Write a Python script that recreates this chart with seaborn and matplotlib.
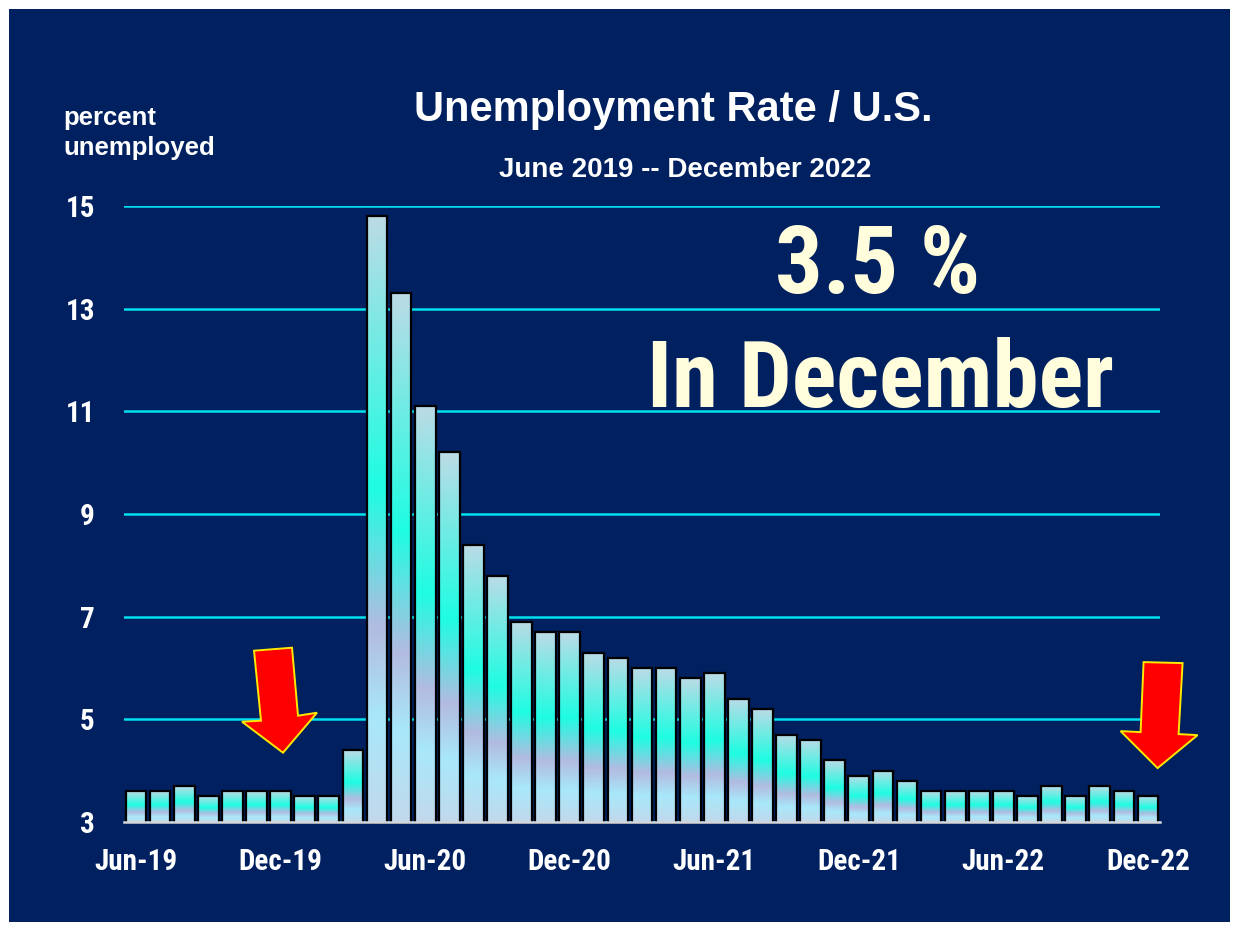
import numpy as np
import pandas as pd
import matplotlib
matplotlib.use("Agg")
import matplotlib.pyplot as plt
import seaborn as sns
from matplotlib.colors import LinearSegmentedColormap
from matplotlib.patches import Polygon, Rectangle
from matplotlib.transforms import Affine2D

# -----------------------------
# Data
# -----------------------------
months = pd.date_range("2019-06-01", periods=43, freq="MS").strftime("%b-%y").tolist()
rates = [3.6, 3.6, 3.7, 3.5, 3.6, 3.6, 3.6,                      # Jun-19 .. Dec-19
         3.5, 3.5, 4.4, 14.8, 13.3, 11.1, 10.2, 8.4, 7.8, 6.9, 6.7, 6.7,  # 2020
         6.3, 6.2, 6.0, 6.0, 5.8, 5.9, 5.4, 5.2, 4.7, 4.6, 4.2, 3.9,      # 2021
         4.0, 3.8, 3.6, 3.6, 3.6, 3.6, 3.5, 3.7, 3.5, 3.7, 3.6, 3.5]      # 2022
tick_labels = ["Jun-19", "Dec-19", "Jun-20", "Dec-20", "Jun-21", "Dec-21", "Jun-22", "Dec-22"]
y_ticks = [3, 5, 7, 9, 11, 13, 15]
arrow_tips = [(6.1, 4.35), (42.4, 4.05)]   # (month index, percent) where the red arrows point

# -----------------------------
# Style
# -----------------------------
NAVY = "#002060"
GRID = "#00E1EE"
AXIS = "#D6D6D6"
CREAM = "#FFFDDC"
W, H = 1239, 930
NARROW = ["Roboto Condensed", "PT Sans Narrow", "Liberation Sans", "DejaVu Sans"]

sns.set_style("white")
plt.rcParams["font.family"] = ["Liberation Sans", "DejaVu Sans"]
plt.rcParams["font.weight"] = "bold"

bar_cmap = LinearSegmentedColormap.from_list(
    "bars",
    [(0.0, "#BCDBE6"), (0.45, "#1EFDE2"), (0.68, "#B3BBE1"), (0.83, "#A8E8FA"), (1.0, "#C2D8EC")],
)

# arrow outline in pixels, relative to the tip (y up)
arrow_shapes = [
    [(0, 0), (-41, 31), (-22, 32), (-29, 102), (9, 105), (15, 37), (34, 40)],
    [(0, 0), (-37, 37), (-17, 36), (-14, 106), (25, 105), (21, 34), (40, 33)],
]

# -----------------------------
# Figure
# -----------------------------
fig = plt.figure(figsize=(W / 100, H / 100), dpi=100, facecolor="white")
fig.patches.append(Rectangle((9 / W, 8 / H), (1230 - 9) / W, (921 - 8) / H,
                             transform=fig.transFigure, facecolor=NAVY,
                             edgecolor="none", zorder=-10))

ax = fig.add_axes([124 / W, (H - 822) / H, (1160 - 124) / W, (822 - 206) / H])
ax.set_facecolor("none")

sns.barplot(x=months, y=rates, ax=ax, width=0.86, color="#1EFDE2",
            edgecolor="black", linewidth=1.6, zorder=3)

# gradient fill inside every bar
grad = np.linspace(0, 1, 256).reshape(-1, 1)
for bar in ax.patches:
    x0, w, top = bar.get_x(), bar.get_width(), bar.get_height()
    bar.set_facecolor("none")
    ax.imshow(grad, cmap=bar_cmap, extent=[x0, x0 + w, 3, top], aspect="auto",
              interpolation="bicubic", zorder=2.5)

ax.set_xlim(-0.5, len(months) - 0.5)
ax.set_ylim(3, 15)

# grid + axes
ax.set_yticks(y_ticks)
ax.yaxis.grid(True, color=GRID, linewidth=1.8)
ax.xaxis.grid(False)
ax.set_axisbelow(True)
for side in ["left", "right", "top"]:
    ax.spines[side].set_visible(False)
ax.spines["bottom"].set_color(AXIS)
ax.spines["bottom"].set_linewidth(1.8)
ax.spines["bottom"].set_zorder(4)

tick_pos = [months.index(t) for t in tick_labels]
ax.set_xticks(tick_pos, tick_labels)
ax.set_xticks(np.arange(-0.5, len(months), 1), minor=True)
ax.tick_params(axis="x", which="major", length=0, pad=19, labelsize=21, labelcolor="white")
ax.tick_params(axis="x", which="minor", length=6, width=1.5, color=AXIS, direction="out")
ax.tick_params(axis="y", length=0, pad=21, labelsize=21, labelcolor="white")
for lab in ax.get_xticklabels() + ax.get_yticklabels():
    lab.set_fontweight("bold")
    lab.set_family(NARROW)
ax.set_xlabel("")
ax.set_ylabel("")

# -----------------------------
# Text
# -----------------------------
fig.text(673 / W, 1 - 121 / H, "Unemployment Rate / U.S.", ha="center", va="baseline",
         color="white", fontsize=30, fontweight="bold")
fig.text(685 / W, 1 - 177 / H, "June 2019 -- December 2022", ha="center", va="baseline",
         color="white", fontsize=20, fontweight="bold")
fig.text(63 / W, 1 - 106 / H, "percent\nunemployed", ha="left", va="top",
         color="white", fontsize=18.5, fontweight="bold", linespacing=1.3)
fig.text(878 / W, 1 - 293 / H, "3.5 %", ha="center", va="baseline",
         color=CREAM, fontsize=68, fontweight="bold", family=NARROW)
fig.text(880 / W, 1 - 407 / H, "In December", ha="center", va="baseline",
         color=CREAM, fontsize=67, fontweight="bold", family=NARROW)

# red arrows
for (tx, ty), shape in zip(arrow_tips, arrow_shapes):
    px, py = ax.transData.transform((tx, ty))
    arrow = Polygon(shape, closed=True, facecolor="#FF0000", edgecolor="#FFE800",
                    linewidth=1.4, transform=Affine2D().translate(px, py), zorder=6)
    fig.add_artist(arrow)

fig.savefig("out.png", dpi=100, facecolor="white")
plt.close(fig)
